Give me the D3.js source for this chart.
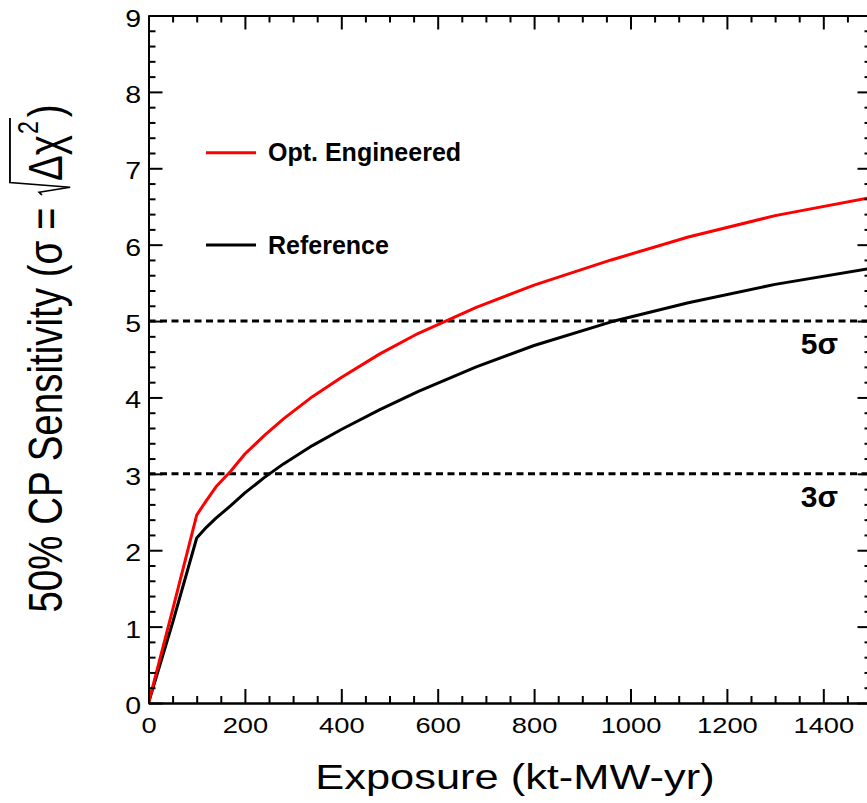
<!DOCTYPE html>
<html>
<head>
<meta charset="utf-8">
<script src="https://cdn.jsdelivr.net/npm/d3@7"></script>
<style>
  body { margin: 0; background: #fff; }
  text { font-family: "Liberation Sans", Arial, Helvetica, sans-serif; }
</style>
</head>
<body>
<div id="chart"></div>
<script>
// values
const exposure      = [0, 50, 100, 120, 140, 170, 200, 240, 280, 340, 400, 480, 560, 680, 800, 960, 1120, 1300, 1500];
const optEngineered = [0, 1.22, 2.46, 2.65, 2.83, 3.03, 3.26, 3.50, 3.72, 4.01, 4.26, 4.57, 4.84, 5.18, 5.47, 5.80, 6.10, 6.38, 6.62];
const reference     = [0, 1.05, 2.16, 2.30, 2.42, 2.58, 2.75, 2.95, 3.13, 3.37, 3.58, 3.84, 4.08, 4.40, 4.68, 4.99, 5.24, 5.48, 5.69];
const sigmaLevels   = [5, 3];
const sigmaLabels   = ["5σ", "3σ"];
const legendNames   = ["Opt. Engineered", "Reference"];
const legendColors  = ["#ff0000", "#000000"];

const width = 867, height = 803;
const sx = 1.24; // glyphs in the picture are stretched sideways

const svg = d3.select("#chart").append("svg")
    .attr("width", width)
    .attr("height", height);

const x = d3.scaleLinear().domain([0, 1500]).range([148.5, 871.5]);
const y = d3.scaleLinear().domain([0, 9]).range([703, 15.5]);

const xMajor = d3.range(0, 1501, 200);
const xMinor = d3.range(0, 1501, 50).filter(d => d % 200 !== 0);
const yMajor = d3.range(0, 10);
const yMinor = d3.range(0, 45).map(d => d / 5).filter(d => d % 1 !== 0);

svg.append("clipPath").attr("id", "plot")
  .append("rect")
    .attr("x", x(0)).attr("y", y(9))
    .attr("width", x(1500) - x(0)).attr("height", y(0) - y(9));

// dashed sigma lines
svg.append("g").selectAll("line")
  .data(sigmaLevels)
  .join("line")
    .attr("x1", x(0)).attr("x2", x(1500))
    .attr("y1", d => y(d)).attr("y2", d => y(d))
    .attr("stroke", "#000")
    .attr("stroke-width", 3)
    .attr("stroke-dasharray", "7,4.5");

svg.append("g").selectAll("text")
  .data(sigmaLevels)
  .join("text")
    .attr("x", 838).attr("y", d => y(d) + 33)
    .attr("text-anchor", "end")
    .attr("font-size", 30)
    .attr("font-weight", "bold")
    .text((d, i) => sigmaLabels[i]);

// curves
const line = d3.line()
    .x((d, i) => x(exposure[i]))
    .y(d => y(d));

svg.append("g").attr("clip-path", "url(#plot)")
  .selectAll("path")
  .data([reference, optEngineered])
  .join("path")
    .attr("d", line)
    .attr("fill", "none")
    .attr("stroke", (d, i) => i === 0 ? "#000" : "#ff0000")
    .attr("stroke-width", 3)
    .attr("stroke-linejoin", "round");

// axes
function styleAxis(g) {
  g.select(".domain").attr("stroke-width", 2);
  g.selectAll(".tick line").attr("stroke-width", 2);
}

svg.append("g")
    .attr("transform", `translate(0,${y(0)})`)
    .call(d3.axisBottom(x).tickValues(xMinor).tickSize(-7).tickSizeOuter(0).tickFormat(""))
    .call(styleAxis);
svg.append("g")
    .attr("transform", `translate(0,${y(0)})`)
    .call(d3.axisBottom(x).tickValues(xMajor).tickSize(-14).tickSizeOuter(0).tickFormat(d3.format("d")))
    .call(styleAxis)
    .call(g => g.selectAll(".tick text")
        .attr("y", 30).attr("dy", null)
        .attr("font-size", 22)
        .attr("font-family", "Liberation Sans, Arial, sans-serif")
        .attr("transform", `scale(${sx},1)`));

svg.append("g")
    .attr("transform", `translate(0,${y(9)})`)
    .call(d3.axisTop(x).tickValues(xMinor).tickSize(-7).tickSizeOuter(0).tickFormat(""))
    .call(styleAxis);
svg.append("g")
    .attr("transform", `translate(0,${y(9)})`)
    .call(d3.axisTop(x).tickValues(xMajor).tickSize(-14).tickSizeOuter(0).tickFormat(""))
    .call(styleAxis);

svg.append("g")
    .attr("transform", `translate(${x(0)},0)`)
    .call(d3.axisLeft(y).tickValues(yMinor).tickSize(-7).tickSizeOuter(0).tickFormat(""))
    .call(styleAxis);
svg.append("g")
    .attr("transform", `translate(${x(0)},0)`)
    .call(d3.axisLeft(y).tickValues(yMajor).tickSize(-14).tickSizeOuter(0).tickFormat(d3.format("d")))
    .call(styleAxis)
    .call(g => g.selectAll(".tick text")
        .attr("x", -7.5 / sx).attr("y", 10.5).attr("dy", null)
        .attr("font-size", 23)
        .attr("font-family", "Liberation Sans, Arial, sans-serif")
        .attr("transform", `scale(${sx},1)`));

svg.append("g")
    .attr("transform", `translate(${x(1500)},0)`)
    .call(d3.axisRight(y).tickValues(yMinor).tickSize(-7).tickSizeOuter(0).tickFormat(""))
    .call(styleAxis);
svg.append("g")
    .attr("transform", `translate(${x(1500)},0)`)
    .call(d3.axisRight(y).tickValues(yMajor).tickSize(-14).tickSizeOuter(0).tickFormat(""))
    .call(styleAxis);

// x title
svg.append("text")
    .attr("transform", `translate(515,789) scale(${sx},1)`)
    .attr("text-anchor", "middle")
    .attr("font-size", 35)
    .text("Exposure (kt-MW-yr)");

// y title with square root
const f = 38.5;
const yt = svg.append("g").attr("font-size", f);
const t1 = yt.append("text").attr("x", 0).attr("y", 0).text("50% CP Sensitivity (σ =\u00a0");
const w1 = t1.node().getComputedTextLength() + 0.05 * f;
const rx = w1 + 0.36 * f;
const t2 = yt.append("text").attr("x", rx).attr("y", 0).text("Δχ");
const w2 = t2.node().getComputedTextLength();
const t3 = yt.append("text").attr("x", rx + w2 + 0.03 * f).attr("y", -0.5 * f)
    .attr("font-size", 0.6 * f).text("2");
const w3 = t3.node().getComputedTextLength();
const endRoot = rx + w2 + 0.03 * f + w3 + 0.08 * f;
yt.append("path")
    .attr("d", d3.line()([
      [w1, -0.42 * f], [w1 + 0.07 * f, -0.48 * f], [w1 + 0.2 * f, 0.17 * f],
      [w1 + 0.32 * f, -1.09 * f], [endRoot, -1.09 * f]
    ]))
    .attr("fill", "none").attr("stroke", "#000").attr("stroke-width", 1.5);
const t4 = yt.append("text").attr("x", endRoot + 0.02 * f).attr("y", 0).text(")");
const total = endRoot + 0.02 * f + t4.node().getComputedTextLength();
yt.attr("transform", `translate(62,${358.5 + total / 2}) rotate(-90) scale(1,${sx})`);

// legend
const legend = svg.append("g").selectAll("g")
  .data(legendNames)
  .join("g")
    .attr("transform", (d, i) => `translate(0,${i === 0 ? 152.7 : 245})`);
legend.append("line")
    .attr("x1", 206).attr("x2", 256)
    .attr("stroke", (d, i) => legendColors[i])
    .attr("stroke-width", 3);
legend.append("text")
    .attr("x", 268).attr("y", 8.5)
    .attr("font-size", 25)
    .attr("font-weight", "bold")
    .text(d => d);
</script>
</body>
</html>
